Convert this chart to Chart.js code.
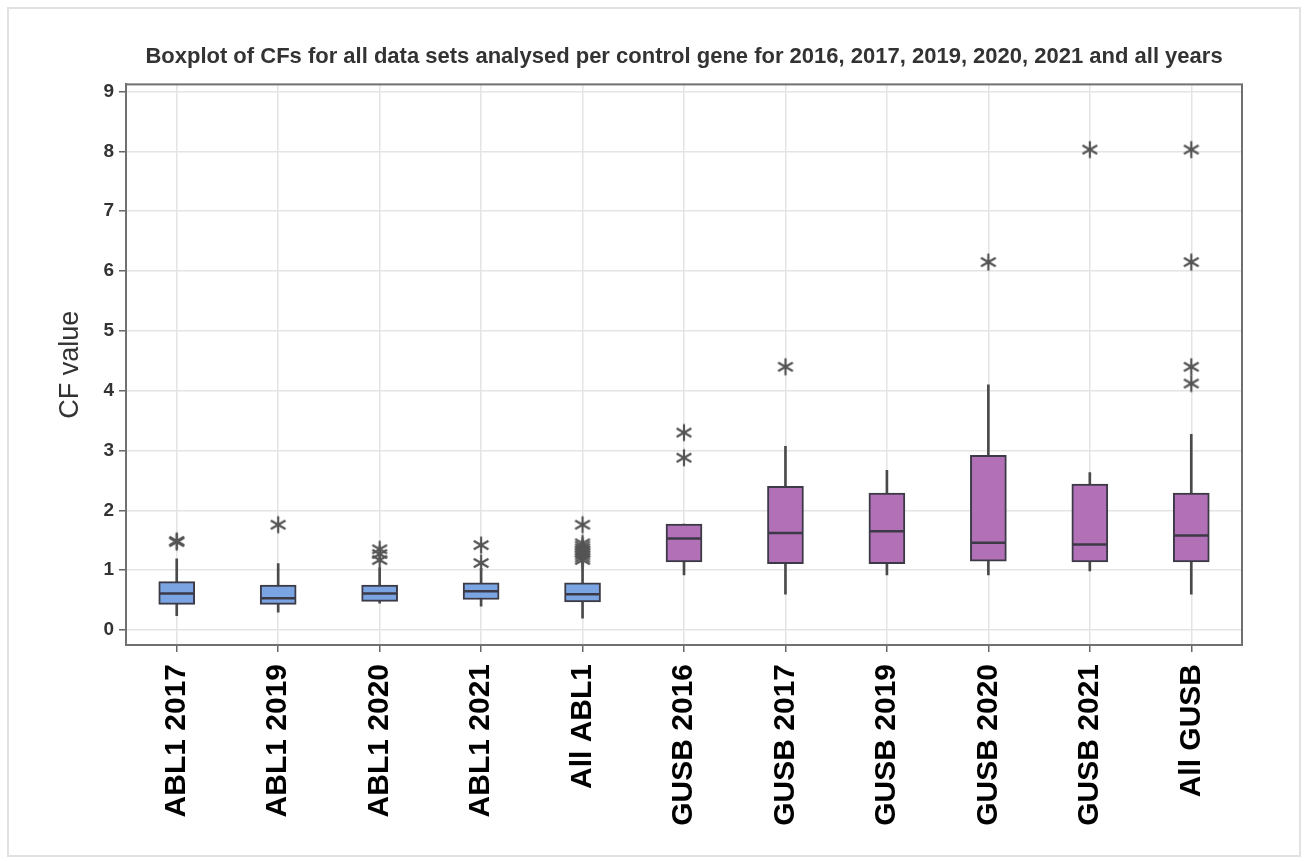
<!DOCTYPE html>
<html>
<head>
<meta charset="utf-8">
<script src="https://cdn.jsdelivr.net/npm/chart.js@4/dist/chart.umd.min.js"></script>
<style>
  body { margin: 0; background: #fff; }
  #wrap { position: relative; width: 1306px; height: 861px; }
  #frame { position: absolute; left: 7px; top: 7px; width: 1290px; height: 846px; border: 2px solid #e2e2e2; pointer-events: none; }
</style>
</head>
<body>
<div id="wrap">
  <canvas id="boxChart" width="1306" height="861"></canvas>
  <div id="frame"></div>
</div>
<script>
var labels = ["ABL1 2017", "ABL1 2019", "ABL1 2020", "ABL1 2021", "All ABL1",
  "GUSB 2016", "GUSB 2017", "GUSB 2019", "GUSB 2020", "GUSB 2021", "All GUSB"];

var whiskerLow = [0.24, 0.30, 0.45, 0.40, 0.20, 0.92, 0.60, 0.92, 0.92, 0.99, 0.60];
var q1 = [0.43, 0.43, 0.48, 0.51, 0.47, 1.14, 1.11, 1.11, 1.15, 1.14, 1.14];
var median = [0.61, 0.53, 0.61, 0.65, 0.60, 1.53, 1.62, 1.65, 1.46, 1.43, 1.58];
var q3 = [0.81, 0.75, 0.75, 0.79, 0.79, 1.77, 2.40, 2.29, 2.92, 2.44, 2.29];
var whiskerHigh = [1.19, 1.11, 1.04, 1.03, 1.15, 1.77, 3.07, 2.67, 4.10, 2.63, 3.27];

var outliers = [
  [1.47, 1.49],
  [1.76],
  [1.17, 1.27, 1.35],
  [1.12, 1.42],
  [1.17, 1.21, 1.25, 1.29, 1.33, 1.37, 1.41, 1.45, 1.76],
  [2.88, 3.30],
  [4.40],
  [],
  [6.15],
  [8.03],
  [4.12, 4.40, 6.15, 8.03]
];

var yTicks = [0, 1, 2, 3, 4, 5, 6, 7, 8, 9];

var blue = "rgb(122, 165, 226)";
var purple = "rgb(178, 112, 182)";
var edge = "#3d3a48";

// asterisk marker like the one in the original
function asterisk() {
  var c = document.createElement("canvas");
  c.width = 20;
  c.height = 20;
  var ctx = c.getContext("2d");
  ctx.strokeStyle = "#555";
  ctx.lineWidth = 2.2;
  [90, 30, 150].forEach(function (deg) {
    var a = deg * Math.PI / 180;
    ctx.beginPath();
    ctx.moveTo(10 - 8.5 * Math.cos(a), 10 - 8.5 * Math.sin(a));
    ctx.lineTo(10 + 8.5 * Math.cos(a), 10 + 8.5 * Math.sin(a));
    ctx.stroke();
  });
  return c;
}

var outlierPoints = [];
outliers.forEach(function (list, i) {
  list.forEach(function (v) {
    outlierPoints.push({ x: labels[i], y: v });
  });
});

var plotFrame = {
  id: "plotFrame",
  afterDraw: function (chart) {
    var a = chart.chartArea;
    var ctx = chart.ctx;
    ctx.save();
    ctx.strokeStyle = "#707070";
    ctx.lineWidth = 2;
    ctx.strokeRect(a.left, a.top, a.right - a.left, a.bottom - a.top);
    ctx.restore();
  }
};

new Chart(document.getElementById("boxChart"), {
  type: "bar",
  data: {
    labels: labels,
    datasets: [
      {
        label: "whisker",
        data: labels.map(function (l, i) { return [whiskerLow[i], whiskerHigh[i]]; }),
        backgroundColor: "#4a4a4a",
        barThickness: 2,
        grouped: false,
        order: 3
      },
      {
        label: "box",
        data: labels.map(function (l, i) { return [q1[i], q3[i]]; }),
        backgroundColor: labels.map(function (l) { return l.indexOf("ABL1") >= 0 ? blue : purple; }),
        borderColor: edge,
        borderWidth: 2,
        borderSkipped: false,
        barThickness: 36,
        grouped: false,
        order: 2
      },
      {
        type: "line",
        label: "median",
        data: labels.map(function (l, i) { return { x: l, y: median[i] }; }),
        showLine: false,
        pointStyle: "line",
        pointRadius: 17,
        pointBorderWidth: 2.5,
        pointBorderColor: edge,
        order: 1
      },
      {
        type: "line",
        label: "outliers",
        data: outlierPoints,
        showLine: false,
        pointStyle: asterisk(),
        order: 0
      }
    ]
  },
  options: {
    responsive: false,
    animation: false,
    layout: { padding: { left: 50, right: 64, top: 0, bottom: 0 } },
    plugins: {
      legend: { display: false },
      tooltip: { enabled: false },
      title: {
        display: true,
        fullSize: false,
        text: "Boxplot of CFs for all data sets analysed per control gene for 2016, 2017, 2019, 2020, 2021 and all years",
        color: "#333",
        font: { family: "Liberation Sans", size: 22, weight: "bold" },
        padding: { top: 44, bottom: 14 }
      }
    },
    scales: {
      x: {
        grid: { offset: false, color: "#e4e4e4", lineWidth: 1.5, tickColor: "#666", tickLength: 7 },
        border: { color: "#707070", width: 2 },
        ticks: {
          color: "#000",
          font: { family: "Liberation Sans", size: 30, weight: "bold" },
          minRotation: 90,
          maxRotation: 90,
          padding: 12
        },
        afterFit: function (scale) { scale.height = 216; }
      },
      y: {
        min: -0.25,
        max: 9.12,
        afterBuildTicks: function (scale) {
          scale.ticks = yTicks.map(function (v) { return { value: v }; });
        },
        grid: { color: "#e4e4e4", lineWidth: 1.5, tickColor: "#666", tickLength: 7 },
        border: { color: "#707070", width: 2 },
        ticks: {
          color: "#333",
          font: { family: "Liberation Sans", size: 19, weight: "bold" },
          padding: 5
        },
        title: {
          display: true,
          text: "CF value",
          color: "#333",
          font: { family: "Liberation Sans", size: 27 },
          padding: 4
        },
        afterFit: function (scale) { scale.width = 76; }
      }
    }
  },
  plugins: [plotFrame]
});
</script>
</body>
</html>
